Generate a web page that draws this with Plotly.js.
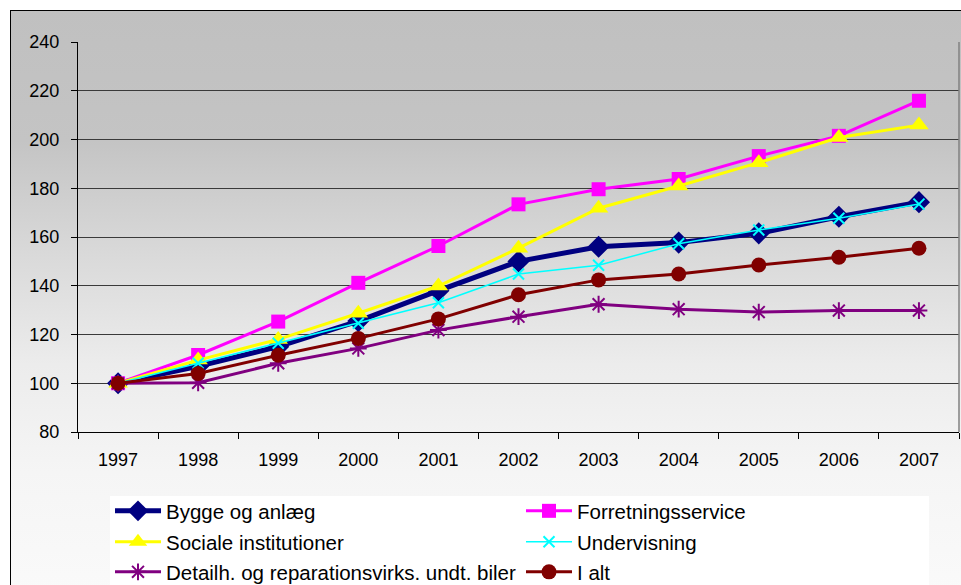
<!DOCTYPE html>
<html>
<head>
<meta charset="utf-8">
<script src="https://cdn.plot.ly/plotly-3.0.1.min.js"></script>
<style>
  html, body { margin:0; padding:0; background:#ffffff; }
  #wrap { position:relative; width:961px; height:585px; overflow:hidden; background:#ffffff; }
  #bg { position:absolute; left:10px; top:10px; width:960px; height:590px;
        border-left:1.5px solid #000; border-top:1.5px solid #000;
        background:linear-gradient(to bottom, #c0c0c0 0%, #c4c4c4 22%, #dadada 42%, #ececec 60%, #f5f5f5 78%, #fafafa 100%); }
  #chart { position:absolute; left:0; top:0; width:961px; height:640px; }
</style>
</head>
<body>
<div id="wrap">
  <div id="bg"></div>
  <div id="chart"></div>
</div>
<script>
const years = ['1997','1998','1999','2000','2001','2002','2003','2004','2005','2006','2007'];

const byggeOgAnlaeg      = [100, 107, 115, 125.5, 138, 150, 156, 157.7, 161.5, 168.3, 174.3];
const forretningsservice = [100, 111.6, 125.3, 141.2, 156.3, 173.4, 179.6, 183.8, 193.2, 201.5, 215.9];
const socialeInst        = [100, 109.5, 118, 128.7, 139.9, 155.4, 171.8, 180.9, 190.5, 200.8, 205.9];
const undervisning       = [100, 108.2, 116.4, 124.6, 133, 144.8, 148.4, 157.2, 162.9, 167.7, 173.5];
const detailhandel       = [100, 100.2, 108.2, 114.3, 121.8, 127.3, 132.4, 130.4, 129.2, 129.8, 129.8];
const iAlt               = [100, 104, 111.5, 118.4, 126.4, 136.3, 142.4, 144.8, 148.5, 151.7, 155.4];

const seriesNames = ['Bygge og anlæg', 'Forretningsservice', 'Sociale institutioner',
                     'Undervisning', 'Detailh. og reparationsvirks. undt. biler', 'I alt'];
const yTicks = [80, 100, 120, 140, 160, 180, 200, 220, 240];

const fontFam = 'Liberation Sans, Arial, sans-serif';

function tr(y, name, color, lw, symbol, msize, mline, legendId) {
  return {
    type:'scatter', mode:'lines+markers', x: years, y: y, name: name,
    line:{color: color, width: lw},
    marker:{symbol: symbol, size: msize, color: color, line: mline},
    legend: legendId, cliponaxis:false
  };
}

const data = [
  tr(byggeOgAnlaeg, seriesNames[0], '#000080', 5, 'diamond', 17, {width:0}, 'legend'),
  tr(forretningsservice, seriesNames[1], '#ff00ff', 3, 'square', 14, {width:0}, 'legend'),
  tr(socialeInst, seriesNames[2], '#ffff00', 3, 'triangle-up', 17, {width:0}, 'legend2'),
  tr(undervisning, seriesNames[3], '#00ffff', 1.5, 'x-thin-open', 11, {width:2, color:'#00ffff'}, 'legend2'),
  tr(detailhandel, seriesNames[4], '#800080', 3, 'asterisk-open', 14, {width:2, color:'#800080'}, 'legend3'),
  tr(iAlt, seriesNames[5], '#800000', 3, 'circle', 15, {width:0}, 'legend3')
];

const plotL = 78, plotR = 959, plotT = 42, plotB = 432;
const W = 961, H = 640;
const pw = plotR - plotL, paperH = H - plotT;
const px = v => (v - plotL) / pw;
const py = v => (H - v) / paperH;

function leg(yPix) {
  return {
    orientation:'h', x: px(110), xanchor:'left', y: py(yPix), yanchor:'middle',
    bgcolor:'rgba(0,0,0,0)', borderwidth:0,
    font:{family: fontFam, size:20.5, color:'#000'},
    itemwidth: 46, entrywidth: 350, entrywidthmode:'pixels',
    itemclick:false, itemdoubleclick:false
  };
}

const layout = {
  width: W, height: H,
  margin:{l: plotL, r: W - plotR, t: plotT, b: 0, pad:0},
  paper_bgcolor:'rgba(0,0,0,0)', plot_bgcolor:'rgba(0,0,0,0)',
  font:{family: fontFam, size:18, color:'#000'},
  showlegend:true,
  legend: leg(511), legend2: leg(542), legend3: leg(572),
  xaxis:{
    type:'category', range:[-0.5, 10.5], showgrid:false,
    showline:true, linecolor:'#000', linewidth:1.2, mirror:false,
    ticks:'outside', ticklen:6, tickcolor:'#000', tickwidth:1, tickson:'boundaries',
    tickfont:{family: fontFam, size:18, color:'#000'}, ticklabelstandoff: 11,
    zeroline:false, fixedrange:true, automargin:false
  },
  yaxis:{
    domain:[py(plotB), 1],
    range:[80, 240], tickvals: yTicks, ticktext: yTicks.map(String),
    showgrid:true, gridcolor:'#3a3a3a', gridwidth:1,
    showline:true, linecolor:'#000', linewidth:1.2,
    ticks:'outside', ticklen:6, tickcolor:'#000', tickwidth:1,
    tickfont:{family: fontFam, size:18, color:'#000'}, ticklabelstandoff: 8,
    zeroline:false, fixedrange:true, automargin:false
  },
  shapes:[
    {type:'rect', xref:'paper', yref:'paper', x0: px(110), x1: px(929), y0: py(H), y1: py(496),
     fillcolor:'#ffffff', line:{width:0}, layer:'below'},
    {type:'line', xref:'paper', yref:'paper', x0:1, x1:1, y0: py(plotB), y1:1, line:{color:'#808080', width:1.5}}
  ]
};

Plotly.newPlot('chart', data, layout, {displayModeBar:false, staticPlot:true});
</script>
</body>
</html>
